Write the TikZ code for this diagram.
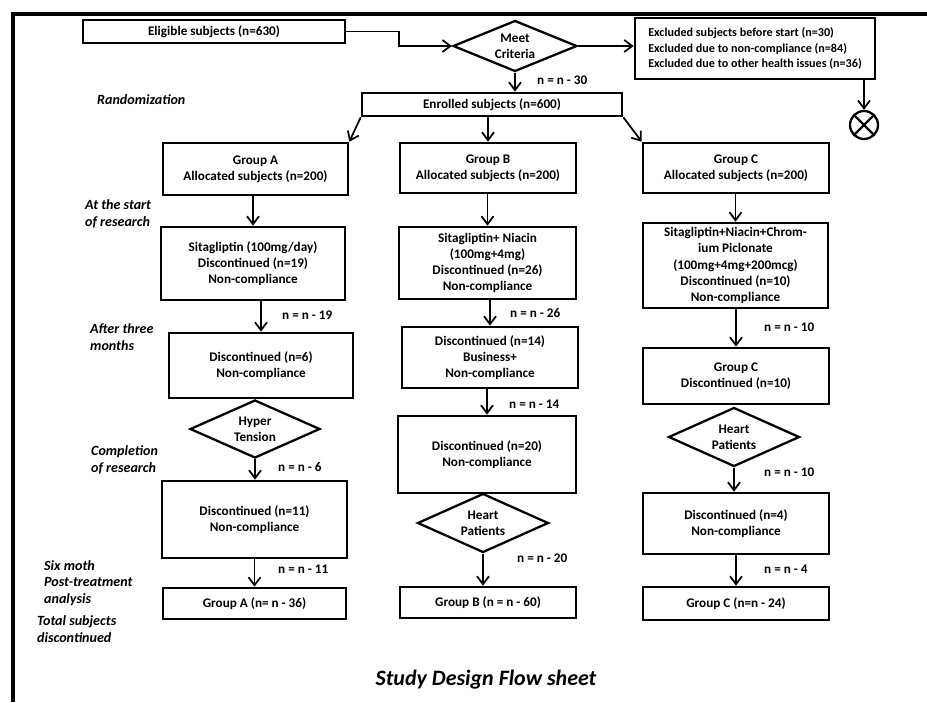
\documentclass[tikz,border=0pt]{standalone}
\usepackage{fontspec}
\setmainfont{Carlito}
\usetikzlibrary{shapes.geometric,arrows.meta}

\begin{document}
\begin{tikzpicture}[x=0.2mm, y=-0.2mm,
    font=\fontsize{7.5}{9.2}\selectfont\bfseries,
    box/.style={draw, rectangle, line width=1.5pt, align=center, inner sep=1pt},
    decision/.style={draw, diamond, line width=1.3pt, align=center, inner sep=0pt, aspect=2.2},
    flow/.style={line width=1pt, -{Straight Barb[length=1.6mm,width=2.4mm]}},
    count/.style={anchor=west},
    phase/.style={anchor=west, align=left, font=\fontsize{8}{9.4}\selectfont\bfseries\itshape}]
    \useasboundingbox (0,0) rectangle (927,702);
    \draw[line width=2.6pt] (13,702) -- (13,14) -- (927,14);

    % Screening
    \node[box, minimum width=52.4mm, minimum height=4.6mm] (eligible) at (214,31.5) {Eligible subjects (n=630)};
    \node[decision, minimum width=24.8mm, minimum height=10.2mm] (meet) at (515,46) {Meet\\Criteria};
    \node[box, align=left, font=\fontsize{6.9}{8.6}\selectfont\bfseries, inner xsep=1.6mm, minimum width=48mm, minimum height=12.2mm] (excluded) at (755,48.5) {Excluded subjects before start (n=30)\\Excluded due to non-compliance (n=84)\\Excluded due to other health issues (n=36)};
    \node[draw, circle, line width=1.3pt, minimum size=5.6mm, inner sep=0pt] (stop) at (864,125) {};
    \draw[line width=1.3pt] (stop.north west) -- (stop.south east) (stop.north east) -- (stop.south west);
    \node[box, minimum width=52mm, minimum height=4.6mm] (enrolled) at (492,104.5) {Enrolled subjects (n=600)};

    % Allocation
    \node[box, minimum width=37mm, minimum height=10.4mm] (groupA) at (255.5,169) {Group A\\Allocated subjects (n=200)};
    \node[box, minimum width=35.2mm, minimum height=10mm] (groupB) at (488,168) {Group B\\Allocated subjects (n=200)};
    \node[box, minimum width=37.2mm, minimum height=10mm] (groupC) at (736,168) {Group C\\Allocated subjects (n=200)};

    % At the start of research
    \node[box, minimum width=36.8mm, minimum height=14.6mm] (sitaA) at (253,263.5) {Sitagliptin (100mg/day)\\Discontinued (n=19)\\Non-compliance};
    \node[box, minimum width=35.4mm, minimum height=14.4mm] (sitaB) at (487.5,263) {Sitagliptin+ Niacin\\(100mg+4mg)\\Discontinued (n=26)\\Non-compliance};
    \node[box, minimum width=37mm, minimum height=17mm] (sitaC) at (735.5,265.5) {Sitagliptin+Niacin+Chrom-\\ium Piclonate\\(100mg+4mg+200mcg)\\Discontinued (n=10)\\Non-compliance};

    % After three months
    \node[box, minimum width=36.8mm, minimum height=13mm] (threeA) at (261,365.5) {Discontinued (n=6)\\Non-compliance};
    \node[box, minimum width=35.2mm, minimum height=12.2mm] (threeB) at (490,357.5) {Discontinued (n=14)\\Business+\\Non-compliance};
    \node[box, minimum width=37.2mm, minimum height=11.2mm] (threeC) at (736,376) {Group C\\Discontinued (n=10)};

    % Completion of research
    \node[decision, minimum width=26mm, minimum height=11.6mm] (hyperA) at (255,429) {Hyper\\Tension};
    \node[box, minimum width=37mm, minimum height=15.4mm] (complA) at (254.5,519.5) {Discontinued (n=11)\\Non-compliance};
    \node[box, minimum width=35.6mm, minimum height=15.4mm] (complB) at (487,454.5) {Discontinued (n=20)\\Non-compliance};
    \node[decision, minimum width=26.2mm, minimum height=11.8mm] (heartB) at (483,523) {Heart\\Patients};
    \node[decision, minimum width=26.2mm, minimum height=11.8mm] (heartC) at (734,437) {Heart\\Patients};
    \node[box, minimum width=37.2mm, minimum height=12.2mm] (complC) at (736,523.5) {Discontinued (n=4)\\Non-compliance};

    % Totals
    \node[box, minimum width=36.6mm, minimum height=6.2mm] (finalA) at (254.5,603.5) {Group A (n= n - 36)};
    \node[box, minimum width=35.2mm, minimum height=6.2mm] (finalB) at (488,602.5) {Group B (n = n - 60)};
    \node[box, minimum width=37.2mm, minimum height=6.6mm] (finalC) at (736,603.5) {Group C (n=n - 24)};

    % Connections
    \draw[flow] (eligible.east) -- ++(53,0) |- (meet.west);
    \draw[flow] (meet.east) -- (excluded.west |- meet.east);
    \draw[flow] (stop.north |- excluded.south) -- (stop.north);
    \draw[flow] (meet.south) -- (enrolled.north -| meet.south);
    \draw[flow] (enrolled.south west) -- (groupA.north east);
    \draw[flow] (enrolled.south -| groupB.north) -- (groupB.north);
    \draw[flow] (enrolled.south east) -- (groupC.north west);

    \draw[flow] (groupA.south -| sitaA.north) -- (sitaA.north);
    \draw[flow] (sitaA.south -| threeA.north) -- (threeA.north);
    \draw[flow] (hyperA.south) -- (complA.north -| hyperA.south);
    \draw[flow] (complA.south -| finalA.north) -- (finalA.north);

    \draw[flow] (groupB.south -| sitaB.north) -- (sitaB.north);
    \draw[flow] (sitaB.south -| threeB.north) -- (threeB.north);
    \draw[flow] (threeB.south -| complB.north) -- (complB.north);
    \draw[flow] (heartB.south) -- (finalB.north -| heartB.south);

    \draw[flow] (groupC.south -| sitaC.north) -- (sitaC.north);
    \draw[flow] (sitaC.south -| threeC.north) -- (threeC.north);
    \draw[flow] (heartC.south) -- (complC.north -| heartC.south);
    \draw[flow] (complC.south -| finalC.north) -- (finalC.north);

    % Counts
    \node[count] (n30) at (531,80) {n = n - 30};
    \node[count] (n19) at (276,315) {n = n - 19};
    \node[count] (n26) at (504,313) {n = n - 26};
    \node[count] (n10a) at (758,327) {n = n - 10};
    \node[count] (n14) at (503,404) {n = n - 14};
    \node[count] (n6) at (272,467) {n = n - 6};
    \node[count] (n11) at (272,569) {n = n - 11};
    \node[count] (n20) at (511,558) {n = n - 20};
    \node[count] (n10b) at (758,472) {n = n - 10};
    \node[count] (n4) at (758,569) {n = n - 4};

    % Phases
    \node[phase] (rand) at (91,100) {Randomization};
    \node[phase] (start) at (79,214) {At the start\\of research};
    \node[phase] (three) at (84,337) {After three\\months};
    \node[phase] (compl) at (85,460) {Completion\\of research};
    \node[phase] (six) at (38,583) {Six moth\\Post-treatment\\analysis};
    \node[phase] (total) at (31,629) {Total subjects\\discontinued};
    \node[font=\fontsize{12.5}{15}\selectfont\bfseries\itshape] (title) at (486,680) {Study Design Flow sheet};
\end{tikzpicture}
\end{document}
